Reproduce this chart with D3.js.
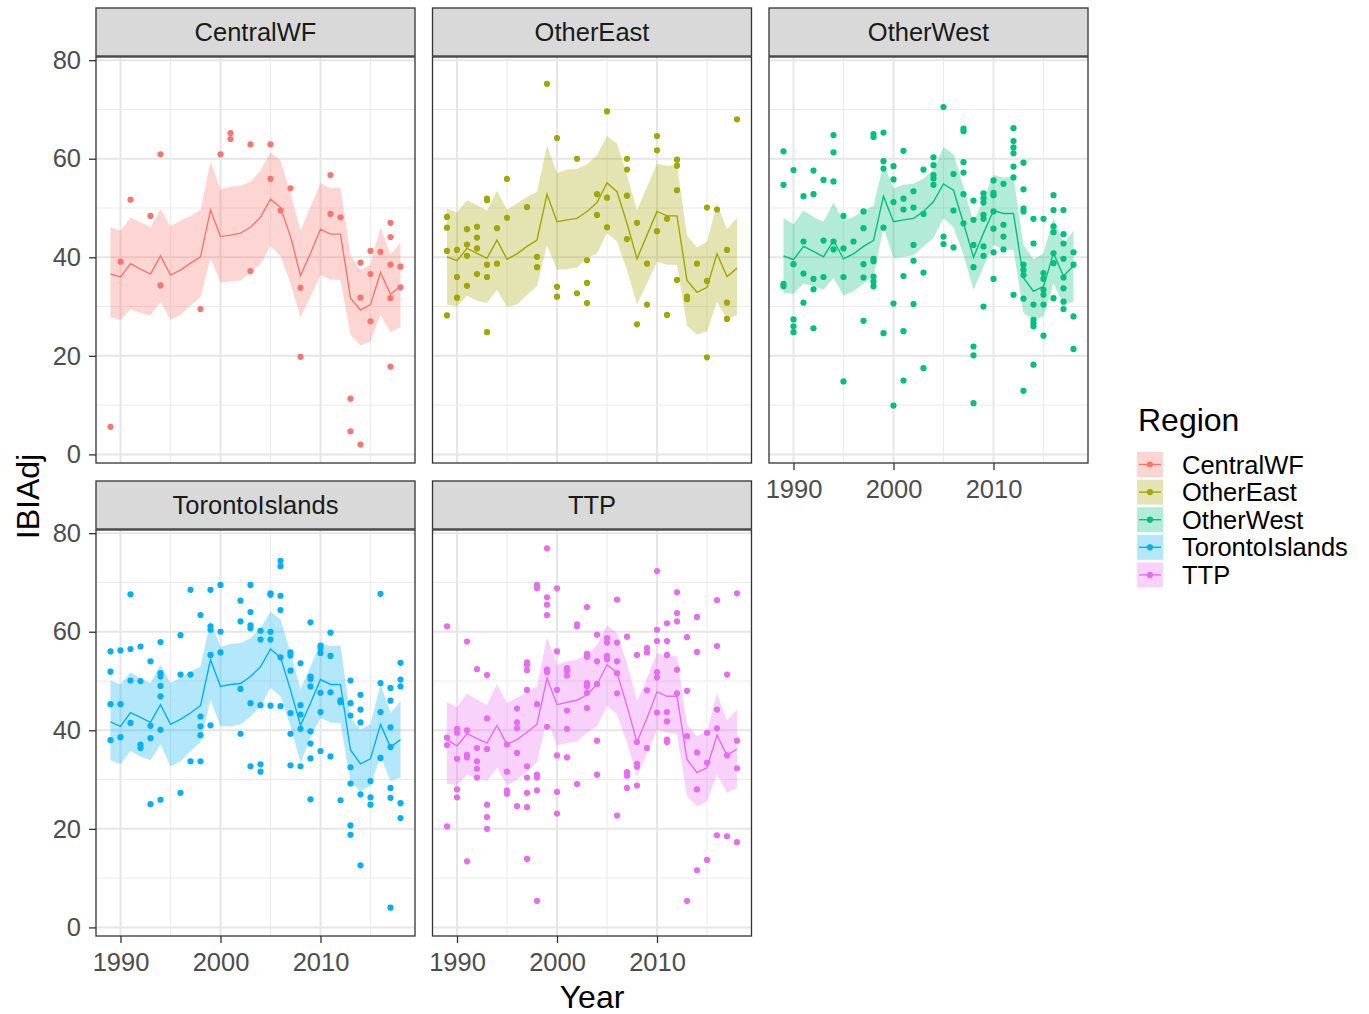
<!DOCTYPE html>
<html>
<head>
<meta charset="utf-8">
<title>IBIAdj by Region</title>
<style>
body { margin: 0; background: #fff; }
text { font-family: "Liberation Sans", Arial, sans-serif; }
</style>
</head>
<body>
<script src="https://cdnjs.cloudflare.com/ajax/libs/d3/7.8.5/d3.min.js"></script>
<script>
// kategorie i kolory
var regions = ["CentralWF", "OtherEast", "OtherWest", "TorontoIslands", "TTP"];
var colors = ["#F8766D", "#A3A500", "#00BF7D", "#00B0F6", "#E76BF3"];
var years = [1989,1990,1991,1992,1993,1994,1995,1996,1997,1998,1999,2000,2001,2002,2003,
             2004,2005,2006,2007,2008,2009,2010,2011,2012,2013,2014,2015,2016,2017,2018];
var yTicks = [0, 20, 40, 60, 80];
var yMinor = [10, 30, 50, 70];
var xTicks = [1990, 2000, 2010];
var xMinor = [1995, 2005, 2015];

// linia (srednia) i przedzial dla kazdego regionu
var fitCentralWF = [36.6,36.0,38.7,37.6,36.6,40.3,36.4,37.4,38.8,40.1,49.6,44.2,44.5,44.9,46.1,48.1,51.8,50.1,44.2,36.3,40.8,45.7,44.7,44.7,31.7,29.3,30.4,36.9,32.5,34.1];
var lowCentralWF = [27.9,27.2,29.5,28.7,28.2,31.0,27.3,28.3,30.2,31.9,39.8,34.9,35.1,35.3,36.9,38.6,42.3,40.3,34.7,27.9,32.0,36.4,35.5,35.4,24.3,22.1,22.9,28.3,24.8,25.8];
var highCentralWF = [46.1,45.4,48.1,47.1,46.1,49.8,46.3,47.4,48.4,49.6,59.4,53.8,54.3,54.5,55.3,57.6,61.3,59.6,53.0,45.4,50.3,55.0,54.0,54.1,40.3,37.4,38.5,46.1,40.5,43.0];

var fitOtherEast = [40.1,39.3,41.8,40.8,39.8,43.5,39.6,40.7,42.2,43.5,52.8,47.2,47.6,47.9,49.3,51.1,55.1,53.3,46.9,39.7,44.5,49.3,48.4,48.4,35.3,32.9,33.9,40.7,36.1,37.8];
var lowOtherEast = [30.4,30.0,32.2,31.2,30.7,33.4,29.9,30.4,32.4,34.1,42.5,37.4,37.6,37.9,39.8,40.8,44.9,43.2,37.4,30.4,34.7,39.1,38.5,38.5,26.1,24.3,25.0,31.0,27.3,28.3];
var highOtherEast = [49.9,49.1,51.6,50.6,49.5,53.5,49.7,50.9,52.3,53.3,62.7,57.1,57.8,57.9,58.9,60.7,64.6,63.1,56.7,49.5,54.3,59.0,58.6,58.7,44.5,42.0,43.2,50.9,45.7,48.0];

var fitOtherWest = [40.3,39.5,42.2,41.2,40.1,43.4,39.7,40.7,42.2,43.4,52.4,47.2,47.6,47.9,49.3,51.3,54.9,53.6,46.9,40.0,44.9,49.5,48.9,48.9,35.8,33.1,34.1,40.8,36.2,38.3];
var lowOtherWest = [32.7,32.6,34.7,34.1,33.4,35.8,32.2,33.1,34.7,36.1,46.1,39.8,40.1,40.4,42.2,43.9,47.9,46.1,40.5,33.4,38.1,42.5,41.6,41.5,28.7,27.3,28.0,34.7,30.4,31.0];
var highOtherWest = [47.9,46.7,49.5,48.2,47.2,51.1,47.4,48.2,49.5,50.4,59.0,54.0,54.7,54.9,56.0,57.8,62.4,60.9,54.3,47.1,51.9,56.7,56.2,56.3,42.5,39.6,40.8,48.1,42.8,45.4];

var fitTorontoIslands = [41.7,40.8,43.6,42.6,41.6,45.2,41.2,42.2,43.5,45.0,54.3,48.9,49.3,49.5,50.9,52.9,56.5,54.8,48.2,41.0,45.5,50.3,49.3,49.3,36.0,33.2,34.2,41.2,36.6,38.1];
var lowTorontoIslands = [33.9,33.1,35.8,34.7,33.9,37.1,32.7,33.7,35.8,37.6,46.2,40.8,40.8,41.2,42.8,44.9,48.6,46.9,40.8,33.4,38.5,42.5,41.6,41.5,29.5,27.7,28.7,34.7,29.7,30.4];
var highTorontoIslands = [50.1,49.3,51.8,50.5,49.6,53.3,49.6,50.6,52.0,52.9,62.3,56.9,57.5,57.7,58.7,60.7,64.1,62.5,55.7,48.4,52.9,57.7,57.1,57.2,42.5,40.1,41.3,49.3,43.5,45.9];

var fitTTP = [38.1,36.8,39.3,38.3,37.4,41.0,37.1,38.1,39.6,41.2,50.6,45.2,45.7,46.1,47.2,49.3,53.3,51.7,44.9,37.6,42.5,47.8,46.9,46.9,34.1,31.4,32.4,39.0,34.9,36.2];
var lowTTP = [29.2,28.8,31.0,30.2,29.7,32.4,28.8,30.0,31.7,33.5,42.3,36.9,37.4,37.8,39.5,40.8,45.0,43.2,37.4,30.6,35.4,40.1,39.5,39.3,26.6,24.6,25.6,31.0,27.3,28.3];
var highTTP = [45.7,44.7,47.4,46.2,45.2,49.4,45.5,46.6,47.7,48.9,58.9,53.3,54.0,54.3,55.3,57.3,61.3,59.7,53.6,45.9,50.6,55.7,55.0,55.0,41.2,38.8,39.8,47.4,42.0,44.2];

// pomiary [rok, IBIAdj]
var ptsCentralWF = [[1989,5.6],[1990,39.1],[1991,51.7],[1993,48.4],[1994,60.9],[1994,34.3],[1998,29.5],[2000,60.9],[2001,65.2],[2001,64.0],[2003,62.9],[2003,37.2],[2005,62.9],[2005,55.9],[2006,49.5],[2007,54.0],[2008,33.8],[2008,19.8],[2011,56.7],[2011,48.8],[2012,48.1],[2013,11.3],[2013,4.7],[2014,38.9],[2014,31.8],[2014,2.0],[2015,41.3],[2015,36.6],[2015,27.0],[2016,41.1],[2017,47.0],[2017,44.1],[2017,38.5],[2017,31.7],[2017,17.8],[2018,38.1],[2018,33.9]];

var ptsOtherEast = [[1989,48.2],[1989,46.0],[1989,41.3],[1989,28.2],[1990,41.5],[1990,36.0],[1990,31.8],[1991,45.7],[1991,42.6],[1991,40.3],[1991,34.2],[1992,46.2],[1992,44.0],[1992,41.8],[1992,36.6],[1993,51.9],[1993,51.6],[1993,38.5],[1993,36.0],[1993,24.8],[1994,45.9],[1994,38.7],[1995,55.9],[1995,48.0],[1997,50.2],[1998,40.1],[1998,38.0],[1999,75.2],[2000,64.2],[2000,34.0],[2000,32.0],[2002,60.0],[2002,32.7],[2003,39.4],[2003,34.8],[2003,30.7],[2004,52.8],[2004,48.6],[2005,69.6],[2005,52.1],[2005,46.1],[2007,60.0],[2007,57.8],[2007,52.5],[2007,43.7],[2008,47.0],[2008,26.4],[2009,38.7],[2009,30.4],[2010,64.6],[2010,61.7],[2010,45.3],[2011,47.8],[2011,28.3],[2012,59.8],[2012,58.6],[2012,53.6],[2012,35.4],[2013,32.0],[2013,31.5],[2014,38.7],[2015,50.1],[2015,35.2],[2015,19.7],[2016,49.7],[2017,41.5],[2017,30.8],[2017,27.5],[2018,68.0]];

var ptsOtherWest = [[1989,61.5],[1989,54.7],[1989,34.6],[1989,34.1],[1990,57.7],[1990,38.6],[1990,27.4],[1990,26.0],[1990,24.8],[1991,52.4],[1991,43.2],[1991,36.7],[1991,30.8],[1992,57.6],[1992,52.8],[1992,35.6],[1992,33.5],[1992,25.6],[1993,55.7],[1993,43.4],[1993,36.0],[1994,64.8],[1994,61.3],[1994,55.4],[1994,43.2],[1994,41.6],[1995,48.4],[1995,41.8],[1995,36.0],[1995,14.8],[1996,43.2],[1997,49.3],[1997,45.9],[1997,38.6],[1997,35.9],[1997,27.1],[1998,65.0],[1998,64.4],[1998,39.7],[1998,39.2],[1998,36.1],[1998,35.1],[1998,34.1],[1999,65.3],[1999,59.5],[1999,58.0],[1999,46.0],[1999,24.6],[2000,58.5],[2000,55.8],[2000,51.2],[2000,30.6],[2000,9.9],[2001,61.6],[2001,51.9],[2001,49.7],[2001,36.2],[2001,25.0],[2001,15.0],[2002,53.4],[2002,50.1],[2002,42.5],[2002,39.3],[2002,30.5],[2003,57.8],[2003,48.8],[2003,36.9],[2003,17.5],
  [2004,60.3],[2004,58.7],[2004,56.7],[2004,56.0],[2004,54.7],[2005,70.5],[2005,44.2],[2005,42.7],[2006,56.9],[2006,49.5],[2006,42.0],[2007,66.1],[2007,65.6],[2007,59.3],[2007,57.2],[2007,52.8],[2007,46.9],[2008,51.5],[2008,47.6],[2008,42.5],[2008,38.0],[2008,21.9],[2008,20.1],[2008,10.4],[2009,53.0],[2009,52.0],[2009,51.1],[2009,48.6],[2009,47.8],[2009,42.2],[2009,40.3],[2009,30.0],[2010,55.6],[2010,53.1],[2010,52.6],[2010,49.3],[2010,45.8],[2010,41.0],[2010,35.6],[2011,54.9],[2011,46.6],[2011,44.2],[2011,41.6],[2012,66.2],[2012,63.6],[2012,62.3],[2012,61.1],[2012,58.4],[2012,56.2],[2012,32.4],[2013,59.2],[2013,53.8],[2013,49.9],[2013,49.3],[2013,38.5],[2013,37.4],[2013,36.4],[2013,31.6],[2013,12.9],[2014,47.8],[2014,42.8],[2014,30.4],[2014,27.3],[2014,26.6],[2014,26.0],[2014,18.2],[2015,47.8],[2015,36.8],[2015,35.6],[2015,33.4],[2015,32.4],[2015,30.4],[2015,24.1],[2016,52.6],[2016,49.6],[2016,46.3],[2016,45.1],[2016,40.8],[2016,38.8],[2016,31.7],[2017,49.6],[2017,44.7],[2017,42.8],[2017,39.7],[2017,35.9],[2017,33.7],[2017,31.0],[2017,29.5],[2018,41.0],[2018,38.5],[2018,28.0],[2018,21.4]];

var ptsTorontoIslands = [[1989,56.0],[1989,51.9],[1989,45.3],[1989,38.0],[1990,56.2],[1990,45.3],[1990,38.6],[1991,67.6],[1991,56.5],[1991,50.1],[1991,41.5],[1992,57.0],[1992,50.0],[1992,37.1],[1992,36.4],[1993,54.0],[1993,40.9],[1993,38.4],[1993,25.0],[1994,57.9],[1994,51.6],[1994,50.9],[1994,49.0],[1994,46.9],[1994,40.1],[1994,25.9],[1996,59.3],[1996,51.3],[1996,27.3],[1997,68.5],[1997,51.3],[1997,33.7],[1998,63.4],[1998,42.8],[1998,40.8],[1998,39.0],[1998,33.7],[1999,68.5],[1999,61.1],[1999,60.4],[1999,55.3],[1999,41.0],[2000,69.5],[2000,60.0],[2000,55.8],[2002,66.3],[2002,62.1],[2002,48.4],[2002,39.3],[2003,69.5],[2003,64.0],[2003,61.3],[2003,60.7],[2003,45.5],[2003,32.7],
  [2004,60.2],[2004,58.4],[2004,45.1],[2004,33.1],[2004,31.6],[2005,67.8],[2005,67.5],[2005,60.0],[2005,58.4],[2005,45.0],[2006,74.4],[2006,73.3],[2006,67.3],[2006,64.4],[2006,54.8],[2006,44.9],[2007,55.8],[2007,55.2],[2007,52.1],[2007,43.5],[2007,39.3],[2007,32.9],[2008,53.6],[2008,45.1],[2008,43.2],[2008,40.3],[2008,32.7],[2009,61.9],[2009,50.9],[2009,50.4],[2009,48.9],[2009,39.8],[2009,37.3],[2009,34.3],[2009,26.0],[2010,57.2],[2010,56.7],[2010,55.7],[2010,47.6],[2010,43.7],[2010,35.8],[2011,59.8],[2011,55.1],[2011,47.7],[2011,34.7],[2012,46.1],[2012,45.7],[2012,25.8],[2013,50.1],[2013,45.5],[2013,43.0],[2013,32.5],[2013,29.2],[2013,20.7],[2013,18.8],[2014,47.2],[2014,44.2],[2014,41.6],[2014,27.0],[2014,12.6],[2015,29.7],[2015,26.4],[2015,24.9],[2016,67.7],[2016,49.6],[2016,43.7],[2016,34.4],[2017,48.6],[2017,46.0],[2017,40.6],[2017,36.6],[2017,28.3],[2017,26.3],[2017,4.0],[2018,53.7],[2018,50.3],[2018,48.9],[2018,25.2],[2018,22.2]];

var ptsTTP = [[1989,61.1],[1989,38.5],[1989,37.0],[1989,20.5],[1990,40.3],[1990,39.5],[1990,34.2],[1990,28.0],[1990,26.4],[1991,58.0],[1991,40.0],[1991,35.0],[1991,34.5],[1991,13.4],[1992,52.4],[1992,36.4],[1992,33.7],[1992,32.2],[1992,30.4],[1993,51.2],[1993,42.4],[1993,36.2],[1993,24.9],[1993,22.4],[1993,20.0],[1995,37.1],[1995,31.6],[1995,27.8],[1995,27.1],[1996,44.4],[1996,41.6],[1996,40.4],[1996,35.4],[1996,24.6],[1997,53.8],[1997,53.3],[1997,52.2],[1997,48.2],[1997,32.7],[1997,30.4],[1997,27.3],[1997,24.4],[1997,13.9],[1998,69.5],[1998,68.8],[1998,45.3],[1998,31.0],[1998,30.4],[1998,27.8],[1998,5.4],[1999,76.9],[1999,67.0],[1999,65.5],[1999,63.4],[1999,52.3],[1999,51.8],[1999,40.7],[2000,68.8],[2000,56.0],[2000,48.2],[2000,34.9],[2000,27.5],[2000,23.1],[2001,52.6],[2001,52.1],[2001,51.1],[2001,44.0],[2001,40.3],[2001,34.5],[2002,61.5],[2002,61.1],[2002,29.1],[2003,65.0],[2003,55.5],[2003,54.9],[2003,49.6],[2003,48.9],[2003,47.6],[2003,44.5],
  [2004,59.4],[2004,54.0],[2004,49.4],[2004,37.9],[2004,31.0],[2005,58.7],[2005,57.8],[2005,55.1],[2005,54.4],[2006,66.5],[2006,57.8],[2006,54.0],[2006,51.6],[2006,47.5],[2006,22.7],[2007,59.0],[2007,31.5],[2007,30.8],[2007,28.3],[2008,55.3],[2008,37.6],[2008,33.2],[2008,32.6],[2008,28.8],[2009,56.7],[2009,55.8],[2009,48.1],[2009,36.4],[2010,72.3],[2010,60.4],[2010,58.1],[2010,51.8],[2010,50.7],[2010,43.6],[2011,61.7],[2011,58.1],[2011,55.3],[2011,43.7],[2011,41.8],[2011,38.1],[2011,37.6],[2012,68.0],[2012,63.8],[2012,62.1],[2012,52.3],[2012,47.5],[2013,58.9],[2013,48.0],[2013,38.8],[2013,5.4],[2014,63.0],[2014,55.9],[2014,35.5],[2014,28.0],[2014,11.6],[2015,39.5],[2015,33.4],[2015,13.7],[2016,66.4],[2016,57.1],[2016,44.2],[2016,40.4],[2016,18.7],[2017,51.3],[2017,34.9],[2017,18.5],[2018,67.8],[2018,37.9],[2018,32.3],[2018,17.3]];

// tabela dla rysowania
var fits = [fitCentralWF, fitOtherEast, fitOtherWest, fitTorontoIslands, fitTTP];
var lows = [lowCentralWF, lowOtherEast, lowOtherWest, lowTorontoIslands, lowTTP];
var highs = [highCentralWF, highOtherEast, highOtherWest, highTorontoIslands, highTTP];
var pts = [ptsCentralWF, ptsOtherEast, ptsOtherWest, ptsTorontoIslands, ptsTTP];

var width = 1369, height = 1014;
var panelW = 319, panelH = 406, stripH = 48;
var colX = [96, 432.5, 769], rowY = [57, 530];
var tickFont = 25.5, titleFont = 32;

// skale wspolne dla wszystkich paneli (rozszerzenie 5%)
var xr = d3.extent(years);
var xpad = (xr[1] - xr[0]) * 0.05;
var x = d3.scaleLinear().domain([xr[0] - xpad, xr[1] + xpad]).range([0, panelW]);
var allY = [];
pts.forEach(function(p) { p.forEach(function(d) { allY.push(d[1]); }); });
var yr = d3.extent(allY);
var ypad = (yr[1] - yr[0]) * 0.05;
var y = d3.scaleLinear().domain([yr[0] - ypad, yr[1] + ypad]).range([panelH, 0]);

var svg = d3.select('body').append('svg')
  .attr('width', width)
  .attr('height', height);
svg.append('rect').attr('width', width).attr('height', height).attr('fill', '#fff');

var area = d3.area()
  .x(function(d) { return x(d.year); })
  .y0(function(d) { return y(d.lo); })
  .y1(function(d) { return y(d.hi); });
var line = d3.line()
  .x(function(d) { return x(d.year); })
  .y(function(d) { return y(d.fit); });

regions.forEach(function(name, i) {
  var col = i % 3, row = Math.floor(i / 3);
  var g = svg.append('g').attr('transform', 'translate(' + colX[col] + ',' + rowY[row] + ')');
  var rows = years.map(function(yy, k) {
    return {year: yy, fit: fits[i][k], lo: lows[i][k], hi: highs[i][k]};
  });

  g.append('rect').attr('width', panelW).attr('height', panelH).attr('fill', '#fff');

  // siatka pomocnicza
  g.selectAll('.ymin').data(yMinor).enter().append('line')
    .attr('x1', 0).attr('x2', panelW)
    .attr('y1', function(d) { return y(d); }).attr('y2', function(d) { return y(d); })
    .attr('stroke', '#EBEBEB').attr('stroke-width', 1);
  g.selectAll('.xmin').data(xMinor).enter().append('line')
    .attr('y1', 0).attr('y2', panelH)
    .attr('x1', function(d) { return x(d); }).attr('x2', function(d) { return x(d); })
    .attr('stroke', '#EBEBEB').attr('stroke-width', 1);
  // siatka glowna
  g.selectAll('.ymaj').data(yTicks).enter().append('line')
    .attr('x1', 0).attr('x2', panelW)
    .attr('y1', function(d) { return y(d); }).attr('y2', function(d) { return y(d); })
    .attr('stroke', '#E6E6E6').attr('stroke-width', 2);
  g.selectAll('.xmaj').data(xTicks).enter().append('line')
    .attr('y1', 0).attr('y2', panelH)
    .attr('x1', function(d) { return x(d); }).attr('x2', function(d) { return x(d); })
    .attr('stroke', '#E6E6E6').attr('stroke-width', 2);

  g.append('path').datum(rows).attr('d', area)
    .attr('fill', colors[i]).attr('fill-opacity', 0.3);
  g.append('path').datum(rows).attr('d', line)
    .attr('fill', 'none').attr('stroke', colors[i]).attr('stroke-width', 1.4);
  g.selectAll('circle').data(pts[i]).enter().append('circle')
    .attr('cx', function(d) { return x(d[0]); })
    .attr('cy', function(d) { return y(d[1]); })
    .attr('r', 3.1)
    .attr('fill', colors[i]);

  g.append('rect').attr('width', panelW).attr('height', panelH)
    .attr('fill', 'none').attr('stroke', '#333333').attr('stroke-width', 1.3);

  // pasek z nazwa regionu
  g.append('rect').attr('x', 0).attr('y', -stripH - 1).attr('width', panelW).attr('height', stripH)
    .attr('fill', '#D9D9D9').attr('stroke', '#333333').attr('stroke-width', 1.3);
  g.append('text').attr('x', panelW / 2).attr('y', -stripH / 2 - 1).attr('dy', '0.36em')
    .attr('text-anchor', 'middle').attr('font-size', tickFont).attr('fill', '#1A1A1A')
    .text(name);

  // os Y tylko w pierwszej kolumnie
  if (col === 0) {
    var ay = g.append('g').call(d3.axisLeft(y).tickValues(yTicks).tickSize(7).tickPadding(8));
    ay.select('.domain').remove();
    ay.selectAll('line').attr('stroke', '#333333').attr('stroke-width', 1.3);
    ay.selectAll('text').attr('font-size', tickFont).attr('fill', '#4D4D4D')
      .attr('font-family', '"Liberation Sans", Arial, sans-serif');
  }
  // os X pod panelami bez sasiada ponizej
  if (row === 1 || i + 3 >= regions.length) {
    var ax = g.append('g').attr('transform', 'translate(0,' + panelH + ')')
      .call(d3.axisBottom(x).tickValues(xTicks).tickFormat(d3.format('d')).tickSize(7).tickPadding(10));
    ax.select('.domain').remove();
    ax.selectAll('line').attr('stroke', '#333333').attr('stroke-width', 1.3);
    ax.selectAll('text').attr('font-size', tickFont).attr('fill', '#4D4D4D')
      .attr('font-family', '"Liberation Sans", Arial, sans-serif');
  }
});

// tytuly osi
var panelsLeft = colX[0], panelsRight = colX[2] + panelW;
svg.append('text')
  .attr('x', (panelsLeft + panelsRight) / 2).attr('y', 1008)
  .attr('text-anchor', 'middle').attr('font-size', titleFont).attr('fill', '#000')
  .text('Year');
svg.append('text')
  .attr('transform', 'translate(39,' + ((rowY[0] + rowY[1] + panelH) / 2) + ') rotate(-90)')
  .attr('text-anchor', 'middle').attr('font-size', titleFont).attr('fill', '#000')
  .text('IBIAdj');

// legenda
var leg = svg.append('g').attr('transform', 'translate(1137,0)');
leg.append('text').attr('x', 1).attr('y', 431).attr('font-size', titleFont).attr('fill', '#000')
  .text('Region');
var items = leg.selectAll('.item').data(regions).enter().append('g')
  .attr('transform', function(d, i) { return 'translate(0,' + (452 + i * 27.6) + ')'; });
items.append('rect').attr('width', 26).attr('height', 25)
  .attr('fill', function(d, i) { return colors[i]; }).attr('fill-opacity', 0.3);
items.append('line').attr('x1', 2).attr('x2', 24).attr('y1', 12.5).attr('y2', 12.5)
  .attr('stroke', function(d, i) { return colors[i]; }).attr('stroke-width', 1.4);
items.append('circle').attr('cx', 13).attr('cy', 12.5).attr('r', 3.1)
  .attr('fill', function(d, i) { return colors[i]; });
items.append('text').attr('x', 45).attr('y', 12.5).attr('dy', '0.36em')
  .attr('font-size', tickFont).attr('fill', '#000')
  .text(function(d) { return d; });
</script>
</body>
</html>
